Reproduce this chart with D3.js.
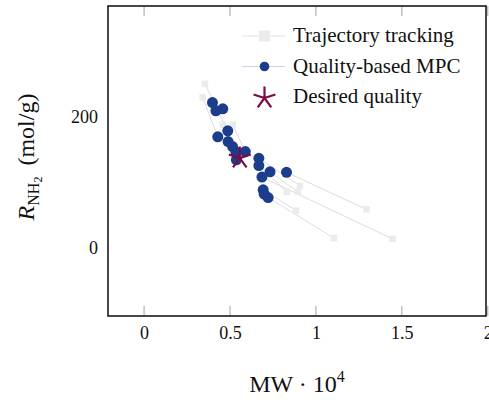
<!DOCTYPE html>
<html>
<head>
<meta charset="utf-8">
<script src="https://cdn.jsdelivr.net/npm/d3@7"></script>
<style>
  html, body { margin: 0; padding: 0; background: #fff; }
  svg { display: block; }
  text { font-family: "Liberation Serif", "DejaVu Serif", serif; fill: #111; }
</style>
</head>
<body>
<svg id="chart" width="489" height="400"></svg>
<script>
// Quality-based MPC end points (MW in 1e4, R_NH2 in mol/g)
const mpcMW  = [0.398, 0.458, 0.418, 0.487, 0.429, 0.489, 0.515, 0.534, 0.589,
                0.537, 0.668, 0.668, 0.733, 0.829, 0.686, 0.693, 0.699, 0.722];
const mpcR   = [221.7, 212.1, 209.0, 178.5, 169.4, 162.2, 154.6, 146.5, 146.9,
                134.3, 136.6, 125.6, 116.0, 115.2, 107.9, 88.5, 81.9, 76.7];

// Trajectory tracking end points, same batch order as above
const ttMW   = [0.404, 0.452, 0.420, 0.354, 0.341, 0.492, 0.520, 0.458, 0.517,
                0.540, 0.907, 0.831, 0.895, 1.295, 1.446, 0.884, 0.702, 1.105];
const ttR    = [218.0, 210.0, 207.0, 250.2, 229.6, 160.0, 152.0, 187.7, 187.7,
                132.0, 94.6, 85.4, 85.4, 58.7, 13.7, 56.9, 80.0, 14.8];

// Target quality
const desiredMW = [0.557];
const desiredR  = [136.9];

// Axis ticks
const xTicks = [0, 0.5, 1, 1.5, 2];
const yTicks = [0, 200];

const legendLabels = ["Trajectory tracking", "Quality-based MPC", "Desired quality"];

const svg = d3.select("#chart");
const pLeft = 108, pRight = 486, pTop = 6, pBottom = 316;

const x = d3.scaleLinear().domain([-0.21, 1.99]).range([pLeft, pRight]);
const y = d3.scaleLinear().domain([-104, 369]).range([pBottom, pTop]);

const blue = "#1b3d8c";
const maroon = "#7d0b43";

// 5-arm asterisk path centred at origin
function starPath(r) {
  let p = "";
  for (let k = 0; k < 5; k++) {
    const a = (-90 + 72 * k) * Math.PI / 180;
    p += `M0,0L${(r * Math.cos(a)).toFixed(2)},${(r * Math.sin(a)).toFixed(2)}`;
  }
  return p;
}

// tick marks, top and bottom
const tickG = svg.append("g");
xTicks.forEach(v => {
  tickG.append("line").attr("x1", x(v)).attr("x2", x(v)).attr("y1", pTop).attr("y2", pTop + 10)
    .attr("stroke", "#b3b3b3").attr("stroke-width", 1.2);
  tickG.append("line").attr("x1", x(v)).attr("x2", x(v)).attr("y1", pBottom).attr("y2", pBottom - 10)
    .attr("stroke", "#b3b3b3").attr("stroke-width", 1.2);
});

// x tick labels via axis generator
const xAxis = d3.axisBottom(x).tickValues(xTicks).tickSize(0).tickPadding(10)
  .tickFormat(d => d3.format("~g")(d));
const gx = svg.append("g").attr("transform", `translate(0,${pBottom})`).call(xAxis);
gx.select(".domain").remove();
gx.selectAll("text").style("font-family", '"Liberation Serif", serif').style("font-size", "18px").attr("fill", "#111");

const yAxis = d3.axisLeft(y).tickValues(yTicks).tickSize(0).tickPadding(10);
const gy = svg.append("g").attr("transform", `translate(${pLeft},0)`).call(yAxis);
gy.select(".domain").remove();
gy.selectAll("text").style("font-family", '"Liberation Serif", serif').style("font-size", "18px").attr("fill", "#111");

// connecting lines between each batch's two end points
const plot = svg.append("g");
plot.selectAll("line.link").data(d3.range(mpcMW.length)).join("line")
  .attr("class", "link")
  .attr("x1", i => x(ttMW[i])).attr("y1", i => y(ttR[i]))
  .attr("x2", i => x(mpcMW[i])).attr("y2", i => y(mpcR[i]))
  .attr("stroke", "#d3d3d3").attr("stroke-width", 0.8);

// trajectory tracking squares
const sq = 6.5;
plot.selectAll("rect.tt").data(d3.range(ttMW.length)).join("rect")
  .attr("class", "tt")
  .attr("x", i => x(ttMW[i]) - sq / 2).attr("y", i => y(ttR[i]) - sq / 2)
  .attr("width", sq).attr("height", sq)
  .attr("fill", "#ebebeb");

// MPC circles
plot.selectAll("circle.mpc").data(d3.range(mpcMW.length)).join("circle")
  .attr("class", "mpc")
  .attr("cx", i => x(mpcMW[i])).attr("cy", i => y(mpcR[i])).attr("r", 5.5)
  .attr("fill", blue);

// desired quality star
plot.selectAll("path.star").data(d3.range(desiredMW.length)).join("path")
  .attr("class", "star")
  .attr("transform", i => `translate(${x(desiredMW[i])},${y(desiredR[i])})`)
  .attr("d", starPath(11.5))
  .attr("stroke", maroon).attr("stroke-width", 2.2).attr("fill", "none");

// frame
svg.append("rect").attr("x", pLeft).attr("y", pTop).attr("width", pRight - pLeft).attr("height", pBottom - pTop)
  .attr("fill", "none").attr("stroke", "#1a1a1a").attr("stroke-width", 1.6);

// legend
const lg = svg.append("g");
const lgX0 = 242, lgX1 = 285, lgMid = 264.5, lgText = 293, rows = [36, 66.5, 97];
lg.append("line").attr("x1", lgX0).attr("x2", lgX1).attr("y1", rows[0]).attr("y2", rows[0])
  .attr("stroke", "#e3e3e3").attr("stroke-width", 1);
lg.append("rect").attr("x", lgMid - 5.5).attr("y", rows[0] - 5.5).attr("width", 11).attr("height", 11)
  .attr("fill", "#ebebeb");
lg.append("line").attr("x1", lgX0).attr("x2", lgX1).attr("y1", rows[1]).attr("y2", rows[1])
  .attr("stroke", "#c9d3ec").attr("stroke-width", 1);
lg.append("circle").attr("cx", lgMid).attr("cy", rows[1]).attr("r", 4.8).attr("fill", blue);
lg.append("path").attr("transform", `translate(${lgMid},${rows[2] + 1})`).attr("d", starPath(11.5))
  .attr("stroke", maroon).attr("stroke-width", 2.2).attr("fill", "none");
legendLabels.forEach((t, i) => {
  lg.append("text").attr("x", lgText).attr("y", rows[i] + 6).style("font-size", "21px").text(t);
});

// axis titles
const xt = svg.append("text").attr("x", 297).attr("y", 392).attr("text-anchor", "middle").style("font-size", "24px");
xt.append("tspan").text("MW \u00b7 10");
xt.append("tspan").attr("dy", -10).style("font-size", "16px").text("4");

const yt = svg.append("text").attr("transform", "translate(34,157) rotate(-90)").attr("text-anchor", "middle")
  .style("font-size", "24px");
yt.append("tspan").style("font-style", "italic").text("R");
yt.append("tspan").attr("dy", 5).style("font-size", "16px").text("NH");
yt.append("tspan").attr("dy", 3).style("font-size", "12px").text("2");
yt.append("tspan").attr("dy", -8).attr("dx", 5).text(" (mol/g)");
</script>
</body>
</html>
